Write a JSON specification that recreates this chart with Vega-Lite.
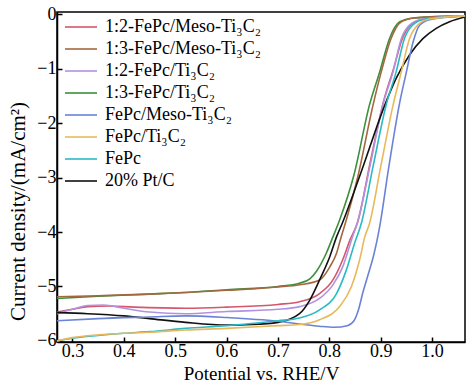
{
  "$schema": "https://vega.github.io/schema/vega-lite/v6.json",
  "width": 408,
  "height": 330,
  "autosize": {"type": "none"},
  "padding": {"left": 57, "top": 12, "right": 2, "bottom": 43},
  "background": "white",
  "config": {
    "font": "Liberation Serif",
    "view": {"stroke": "black", "strokeWidth": 1.5},
    "axis": {"domainColor": "black", "domainWidth": 1.5, "tickColor": "black", "tickWidth": 1.5, "labelColor": "black", "titleColor": "black", "labelFont": "Liberation Serif", "titleFont": "Liberation Serif", "titleFontWeight": "normal", "grid": false}
  },
  "data": {"values": [
    {"s": "1:3-FePc/Ti₃C₂", "x": 0.27, "y": -5.22}, {"s": "1:3-FePc/Ti₃C₂", "x": 0.35, "y": -5.18}, {"s": "1:3-FePc/Ti₃C₂", "x": 0.45, "y": -5.14}, {"s": "1:3-FePc/Ti₃C₂", "x": 0.52, "y": -5.11}, {"s": "1:3-FePc/Ti₃C₂", "x": 0.6, "y": -5.06}, {"s": "1:3-FePc/Ti₃C₂", "x": 0.7, "y": -5.0}, {"s": "1:3-FePc/Ti₃C₂", "x": 0.742, "y": -4.94}, {"s": "1:3-FePc/Ti₃C₂", "x": 0.762, "y": -4.86}, {"s": "1:3-FePc/Ti₃C₂", "x": 0.775, "y": -4.72}, {"s": "1:3-FePc/Ti₃C₂", "x": 0.794, "y": -4.39}, {"s": "1:3-FePc/Ti₃C₂", "x": 0.807, "y": -4.09}, {"s": "1:3-FePc/Ti₃C₂", "x": 0.82, "y": -3.78}, {"s": "1:3-FePc/Ti₃C₂", "x": 0.848, "y": -2.95}, {"s": "1:3-FePc/Ti₃C₂", "x": 0.878, "y": -1.67}, {"s": "1:3-FePc/Ti₃C₂", "x": 0.898, "y": -1.06}, {"s": "1:3-FePc/Ti₃C₂", "x": 0.917, "y": -0.45}, {"s": "1:3-FePc/Ti₃C₂", "x": 0.937, "y": -0.14}, {"s": "1:3-FePc/Ti₃C₂", "x": 0.963, "y": -0.07}, {"s": "1:3-FePc/Ti₃C₂", "x": 0.995, "y": -0.05}, {"s": "1:3-FePc/Ti₃C₂", "x": 1.065, "y": -0.03},
    {"s": "1:3-FePc/Meso-Ti₃C₂", "x": 0.27, "y": -5.19}, {"s": "1:3-FePc/Meso-Ti₃C₂", "x": 0.35, "y": -5.17}, {"s": "1:3-FePc/Meso-Ti₃C₂", "x": 0.45, "y": -5.14}, {"s": "1:3-FePc/Meso-Ti₃C₂", "x": 0.52, "y": -5.11}, {"s": "1:3-FePc/Meso-Ti₃C₂", "x": 0.6, "y": -5.07}, {"s": "1:3-FePc/Meso-Ti₃C₂", "x": 0.7, "y": -5.01}, {"s": "1:3-FePc/Meso-Ti₃C₂", "x": 0.742, "y": -4.97}, {"s": "1:3-FePc/Meso-Ti₃C₂", "x": 0.781, "y": -4.88}, {"s": "1:3-FePc/Meso-Ti₃C₂", "x": 0.801, "y": -4.64}, {"s": "1:3-FePc/Meso-Ti₃C₂", "x": 0.814, "y": -4.39}, {"s": "1:3-FePc/Meso-Ti₃C₂", "x": 0.823, "y": -4.09}, {"s": "1:3-FePc/Meso-Ti₃C₂", "x": 0.833, "y": -3.78}, {"s": "1:3-FePc/Meso-Ti₃C₂", "x": 0.855, "y": -3.0}, {"s": "1:3-FePc/Meso-Ti₃C₂", "x": 0.885, "y": -1.67}, {"s": "1:3-FePc/Meso-Ti₃C₂", "x": 0.901, "y": -1.06}, {"s": "1:3-FePc/Meso-Ti₃C₂", "x": 0.92, "y": -0.45}, {"s": "1:3-FePc/Meso-Ti₃C₂", "x": 0.94, "y": -0.14}, {"s": "1:3-FePc/Meso-Ti₃C₂", "x": 0.965, "y": -0.07}, {"s": "1:3-FePc/Meso-Ti₃C₂", "x": 1.0, "y": -0.05}, {"s": "1:3-FePc/Meso-Ti₃C₂", "x": 1.065, "y": -0.03},
    {"s": "1:2-FePc/Meso-Ti₃C₂", "x": 0.27, "y": -5.47}, {"s": "1:2-FePc/Meso-Ti₃C₂", "x": 0.3, "y": -5.42}, {"s": "1:2-FePc/Meso-Ti₃C₂", "x": 0.33, "y": -5.37}, {"s": "1:2-FePc/Meso-Ti₃C₂", "x": 0.37, "y": -5.36}, {"s": "1:2-FePc/Meso-Ti₃C₂", "x": 0.42, "y": -5.38}, {"s": "1:2-FePc/Meso-Ti₃C₂", "x": 0.52, "y": -5.4}, {"s": "1:2-FePc/Meso-Ti₃C₂", "x": 0.6, "y": -5.38}, {"s": "1:2-FePc/Meso-Ti₃C₂", "x": 0.7, "y": -5.33}, {"s": "1:2-FePc/Meso-Ti₃C₂", "x": 0.742, "y": -5.28}, {"s": "1:2-FePc/Meso-Ti₃C₂", "x": 0.781, "y": -5.13}, {"s": "1:2-FePc/Meso-Ti₃C₂", "x": 0.807, "y": -4.88}, {"s": "1:2-FePc/Meso-Ti₃C₂", "x": 0.826, "y": -4.51}, {"s": "1:2-FePc/Meso-Ti₃C₂", "x": 0.84, "y": -4.15}, {"s": "1:2-FePc/Meso-Ti₃C₂", "x": 0.855, "y": -3.82}, {"s": "1:2-FePc/Meso-Ti₃C₂", "x": 0.88, "y": -2.7}, {"s": "1:2-FePc/Meso-Ti₃C₂", "x": 0.905, "y": -1.62}, {"s": "1:2-FePc/Meso-Ti₃C₂", "x": 0.925, "y": -1.0}, {"s": "1:2-FePc/Meso-Ti₃C₂", "x": 0.942, "y": -0.45}, {"s": "1:2-FePc/Meso-Ti₃C₂", "x": 0.958, "y": -0.2}, {"s": "1:2-FePc/Meso-Ti₃C₂", "x": 0.985, "y": -0.09}, {"s": "1:2-FePc/Meso-Ti₃C₂", "x": 1.065, "y": -0.03},
    {"s": "1:2-FePc/Ti₃C₂", "x": 0.27, "y": -5.5}, {"s": "1:2-FePc/Ti₃C₂", "x": 0.3, "y": -5.42}, {"s": "1:2-FePc/Ti₃C₂", "x": 0.33, "y": -5.35}, {"s": "1:2-FePc/Ti₃C₂", "x": 0.36, "y": -5.34}, {"s": "1:2-FePc/Ti₃C₂", "x": 0.4, "y": -5.4}, {"s": "1:2-FePc/Ti₃C₂", "x": 0.45, "y": -5.47}, {"s": "1:2-FePc/Ti₃C₂", "x": 0.52, "y": -5.5}, {"s": "1:2-FePc/Ti₃C₂", "x": 0.6, "y": -5.46}, {"s": "1:2-FePc/Ti₃C₂", "x": 0.7, "y": -5.42}, {"s": "1:2-FePc/Ti₃C₂", "x": 0.742, "y": -5.37}, {"s": "1:2-FePc/Ti₃C₂", "x": 0.781, "y": -5.22}, {"s": "1:2-FePc/Ti₃C₂", "x": 0.807, "y": -4.97}, {"s": "1:2-FePc/Ti₃C₂", "x": 0.826, "y": -4.64}, {"s": "1:2-FePc/Ti₃C₂", "x": 0.843, "y": -4.15}, {"s": "1:2-FePc/Ti₃C₂", "x": 0.856, "y": -3.78}, {"s": "1:2-FePc/Ti₃C₂", "x": 0.88, "y": -2.75}, {"s": "1:2-FePc/Ti₃C₂", "x": 0.904, "y": -1.67}, {"s": "1:2-FePc/Ti₃C₂", "x": 0.924, "y": -1.06}, {"s": "1:2-FePc/Ti₃C₂", "x": 0.94, "y": -0.45}, {"s": "1:2-FePc/Ti₃C₂", "x": 0.956, "y": -0.2}, {"s": "1:2-FePc/Ti₃C₂", "x": 0.982, "y": -0.09}, {"s": "1:2-FePc/Ti₃C₂", "x": 1.065, "y": -0.03},
    {"s": "20% Pt/C", "x": 0.27, "y": -5.48}, {"s": "20% Pt/C", "x": 0.33, "y": -5.5}, {"s": "20% Pt/C", "x": 0.4, "y": -5.54}, {"s": "20% Pt/C", "x": 0.45, "y": -5.59}, {"s": "20% Pt/C", "x": 0.52, "y": -5.66}, {"s": "20% Pt/C", "x": 0.6, "y": -5.71}, {"s": "20% Pt/C", "x": 0.65, "y": -5.7}, {"s": "20% Pt/C", "x": 0.7, "y": -5.66}, {"s": "20% Pt/C", "x": 0.742, "y": -5.5}, {"s": "20% Pt/C", "x": 0.762, "y": -5.25}, {"s": "20% Pt/C", "x": 0.781, "y": -4.88}, {"s": "20% Pt/C", "x": 0.801, "y": -4.45}, {"s": "20% Pt/C", "x": 0.814, "y": -4.09}, {"s": "20% Pt/C", "x": 0.826, "y": -3.82}, {"s": "20% Pt/C", "x": 0.86, "y": -2.95}, {"s": "20% Pt/C", "x": 0.91, "y": -1.62}, {"s": "20% Pt/C", "x": 0.93, "y": -1.18}, {"s": "20% Pt/C", "x": 0.956, "y": -0.75}, {"s": "20% Pt/C", "x": 0.982, "y": -0.45}, {"s": "20% Pt/C", "x": 1.008, "y": -0.26}, {"s": "20% Pt/C", "x": 1.034, "y": -0.14}, {"s": "20% Pt/C", "x": 1.065, "y": -0.05},
    {"s": "FePc/Meso-Ti₃C₂", "x": 0.27, "y": -5.63}, {"s": "FePc/Meso-Ti₃C₂", "x": 0.35, "y": -5.59}, {"s": "FePc/Meso-Ti₃C₂", "x": 0.45, "y": -5.56}, {"s": "FePc/Meso-Ti₃C₂", "x": 0.52, "y": -5.54}, {"s": "FePc/Meso-Ti₃C₂", "x": 0.6, "y": -5.57}, {"s": "FePc/Meso-Ti₃C₂", "x": 0.7, "y": -5.64}, {"s": "FePc/Meso-Ti₃C₂", "x": 0.742, "y": -5.69}, {"s": "FePc/Meso-Ti₃C₂", "x": 0.78, "y": -5.73}, {"s": "FePc/Meso-Ti₃C₂", "x": 0.81, "y": -5.75}, {"s": "FePc/Meso-Ti₃C₂", "x": 0.835, "y": -5.72}, {"s": "FePc/Meso-Ti₃C₂", "x": 0.848, "y": -5.63}, {"s": "FePc/Meso-Ti₃C₂", "x": 0.857, "y": -5.42}, {"s": "FePc/Meso-Ti₃C₂", "x": 0.865, "y": -5.12}, {"s": "FePc/Meso-Ti₃C₂", "x": 0.875, "y": -4.8}, {"s": "FePc/Meso-Ti₃C₂", "x": 0.887, "y": -4.4}, {"s": "FePc/Meso-Ti₃C₂", "x": 0.898, "y": -3.9}, {"s": "FePc/Meso-Ti₃C₂", "x": 0.915, "y": -2.85}, {"s": "FePc/Meso-Ti₃C₂", "x": 0.937, "y": -1.62}, {"s": "FePc/Meso-Ti₃C₂", "x": 0.95, "y": -1.06}, {"s": "FePc/Meso-Ti₃C₂", "x": 0.963, "y": -0.51}, {"s": "FePc/Meso-Ti₃C₂", "x": 0.976, "y": -0.2}, {"s": "FePc/Meso-Ti₃C₂", "x": 0.995, "y": -0.1}, {"s": "FePc/Meso-Ti₃C₂", "x": 1.065, "y": -0.03},
    {"s": "FePc", "x": 0.27, "y": -6.0}, {"s": "FePc", "x": 0.3, "y": -5.95}, {"s": "FePc", "x": 0.35, "y": -5.9}, {"s": "FePc", "x": 0.4, "y": -5.86}, {"s": "FePc", "x": 0.45, "y": -5.83}, {"s": "FePc", "x": 0.52, "y": -5.77}, {"s": "FePc", "x": 0.6, "y": -5.72}, {"s": "FePc", "x": 0.7, "y": -5.63}, {"s": "FePc", "x": 0.742, "y": -5.58}, {"s": "FePc", "x": 0.781, "y": -5.43}, {"s": "FePc", "x": 0.814, "y": -5.13}, {"s": "FePc", "x": 0.833, "y": -4.7}, {"s": "FePc", "x": 0.849, "y": -4.21}, {"s": "FePc", "x": 0.862, "y": -3.85}, {"s": "FePc", "x": 0.885, "y": -2.8}, {"s": "FePc", "x": 0.911, "y": -1.65}, {"s": "FePc", "x": 0.93, "y": -1.06}, {"s": "FePc", "x": 0.946, "y": -0.45}, {"s": "FePc", "x": 0.962, "y": -0.2}, {"s": "FePc", "x": 0.988, "y": -0.09}, {"s": "FePc", "x": 1.065, "y": -0.03},
    {"s": "FePc/Ti₃C₂", "x": 0.27, "y": -6.0}, {"s": "FePc/Ti₃C₂", "x": 0.3, "y": -5.94}, {"s": "FePc/Ti₃C₂", "x": 0.35, "y": -5.89}, {"s": "FePc/Ti₃C₂", "x": 0.4, "y": -5.86}, {"s": "FePc/Ti₃C₂", "x": 0.45, "y": -5.84}, {"s": "FePc/Ti₃C₂", "x": 0.52, "y": -5.8}, {"s": "FePc/Ti₃C₂", "x": 0.6, "y": -5.77}, {"s": "FePc/Ti₃C₂", "x": 0.7, "y": -5.72}, {"s": "FePc/Ti₃C₂", "x": 0.742, "y": -5.7}, {"s": "FePc/Ti₃C₂", "x": 0.781, "y": -5.61}, {"s": "FePc/Ti₃C₂", "x": 0.82, "y": -5.37}, {"s": "FePc/Ti₃C₂", "x": 0.843, "y": -5.0}, {"s": "FePc/Ti₃C₂", "x": 0.859, "y": -4.51}, {"s": "FePc/Ti₃C₂", "x": 0.869, "y": -4.09}, {"s": "FePc/Ti₃C₂", "x": 0.878, "y": -3.85}, {"s": "FePc/Ti₃C₂", "x": 0.9, "y": -2.8}, {"s": "FePc/Ti₃C₂", "x": 0.924, "y": -1.67}, {"s": "FePc/Ti₃C₂", "x": 0.94, "y": -1.06}, {"s": "FePc/Ti₃C₂", "x": 0.956, "y": -0.45}, {"s": "FePc/Ti₃C₂", "x": 0.972, "y": -0.2}, {"s": "FePc/Ti₃C₂", "x": 0.995, "y": -0.09}, {"s": "FePc/Ti₃C₂", "x": 1.065, "y": -0.03}
  ]},
  "mark": {"type": "line", "interpolate": "monotone", "strokeWidth": 1.6, "clip": true},
  "encoding": {
    "x": {"field": "x", "type": "quantitative", "scale": {"domain": [0.27, 1.064], "nice": false, "zero": false},
      "axis": {"values": [0.3, 0.4, 0.5, 0.6, 0.7, 0.8, 0.9, 1.0], "format": ".1f", "tickSize": -5, "labelPadding": 5, "labelFont": "Liberation Serif", "labelFontSize": 18, "title": "Potential vs. RHE/V", "titleFont": "Liberation Serif", "titleFontSize": 19, "titlePadding": 4}},
    "y": {"field": "y", "type": "quantitative", "scale": {"domain": [-6.02, 0.04], "nice": false, "zero": false},
      "axis": {"values": [-6, -5, -4, -3, -2, -1, 0], "format": "d", "tickSize": -5, "labelPadding": 6, "labelFont": "Liberation Serif", "labelFontSize": 18, "title": "Current density/(mA/cm²)", "titleFont": "Liberation Serif", "titleFontSize": 21, "titleX": -29, "titleY": 199}},
    "color": {"field": "s", "type": "nominal",
      "scale": {"domain": ["1:2-FePc/Meso-Ti₃C₂", "1:3-FePc/Meso-Ti₃C₂", "1:2-FePc/Ti₃C₂", "1:3-FePc/Ti₃C₂", "FePc/Meso-Ti₃C₂", "FePc/Ti₃C₂", "FePc", "20% Pt/C"],
        "range": ["#d6566b", "#a5673f", "#b292e0", "#3d8f3d", "#6b83d6", "#e8b95c", "#2bbac4", "#111111"]},
      "legend": {"orient": "none", "legendX": 7, "legendY": 4, "title": null, "symbolType": "stroke", "symbolSize": 1024, "symbolStrokeWidth": 1.6, "clipHeight": 22, "rowPadding": 0, "labelFontSize": 18, "labelFont": "Liberation Serif", "labelColor": "black", "labelOffset": 7}}
  }
}
